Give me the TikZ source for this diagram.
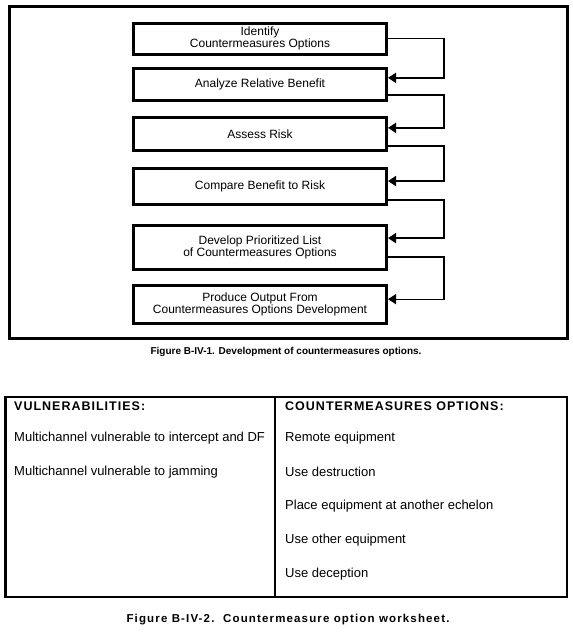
\documentclass[tikz,border=0pt]{standalone}
\usepackage{fontspec}
\setmainfont{Liberation Sans}
\newfontfamily\spacedfont[LetterSpace=8]{Liberation Sans}
\newfontfamily\widefont[LetterSpace=10]{Liberation Sans}
\usetikzlibrary{positioning}
\usetikzlibrary{calc}
\usetikzlibrary{arrows.meta}

\begin{document}
\begin{tikzpicture}[x=1pt,y=-1pt,
        stepbox/.style={draw,line width=3pt,minimum width=253pt,inner sep=0pt,align=center,font=\fontsize{12}{12.5}\selectfont},
        link/.style={line width=1.6pt,-{Triangle[length=8pt,width=10pt]}},
        cell/.style={anchor=west,inner sep=0pt,font=\fontsize{13}{15}\selectfont},
        head/.style={anchor=west,inner sep=0pt,font=\spacedfont\bfseries\fontsize{12.5}{15}\selectfont},
        figcaption/.style={inner sep=0pt,font=\bfseries\fontsize{10}{12}\selectfont}]
        \useasboundingbox (0,0) rectangle (573,632);

        % development of countermeasures options
        \draw[line width=3pt] (9,6) rectangle (567.5,338);
        \node[stepbox,minimum height=31pt] (identify) at (260,38.5) {Identify\\Countermeasures Options};
        \node[stepbox,minimum height=32pt] (analyze) at (260,84.5) {Analyze Relative Benefit};
        \node[stepbox,minimum height=33pt] (assess) at (260,134) {Assess Risk};
        \node[stepbox,minimum height=36pt] (compare) at (260,186.5) {Compare Benefit to Risk};
        \node[stepbox,minimum height=44pt] (develop) at (260,247.5) {Develop Prioritized List\\of Countermeasures Options};
        \node[stepbox,minimum height=38pt] (produce) at (260,304.5) {Produce Output From\\Countermeasures Options Development};

        \draw[link] ($(identify.north east)!0.5!(identify.south east)$) -- ++(56,0) |- ($(analyze.north east)!0.31!(analyze.south east)$);
        \draw[link] ($(analyze.north east)!0.8!(analyze.south east)$) -- ++(56,0) |- ($(assess.north east)!0.33!(assess.south east)$);
        \draw[link] ($(assess.north east)!0.83!(assess.south east)$) -- ++(56,0) |- ($(compare.north east)!0.36!(compare.south east)$);
        \draw[link] ($(compare.north east)!0.85!(compare.south east)$) -- ++(56,0) |- ($(develop.north east)!0.30!(develop.south east)$);
        \draw[link,line width=1.3pt] ($(develop.north east)!0.70!(develop.south east)$) -- ++(56,0) |- ($(produce.north east)!0.37!(produce.south east)$);

        \node[figcaption] (fig1) at (286,352) {Figure B-IV-1. Development of countermeasures options.};

        % worksheet
        \draw[line width=2.5pt] (5.5,397) rectangle (567,597);
        \draw[line width=2pt] (275,397) -- (275,597);

        \node[head] (vuln) at (14,406) {VULNERABILITIES:};
        \node[cell] (vuln1) at ($(vuln.west)+(0,32)$) {Multichannel vulnerable to intercept and DF};
        \node[cell] (vuln2) at ($(vuln1.west)+(0,34)$) {Multichannel vulnerable to jamming};

        \node[head] (opts) at (285,406) {COUNTERMEASURES OPTIONS:};
        \node[cell] (opt1) at ($(opts.west)+(0,32)$) {Remote equipment};
        \node[cell] (opt2) at ($(opt1.west)+(0,34)$) {Use destruction};
        \node[cell] (opt3) at ($(opt2.west)+(0,34)$) {Place equipment at another echelon};
        \node[cell] (opt4) at ($(opt3.west)+(0,34)$) {Use other equipment};
        \node[cell] (opt5) at ($(opt4.west)+(0,34)$) {Use deception};

        \node[figcaption,font=\widefont\bfseries\fontsize{11.5}{14}\selectfont] (fig2) at (288,620) {Figure B-IV-2.\ \ Countermeasure option worksheet.};
\end{tikzpicture}
\end{document}
